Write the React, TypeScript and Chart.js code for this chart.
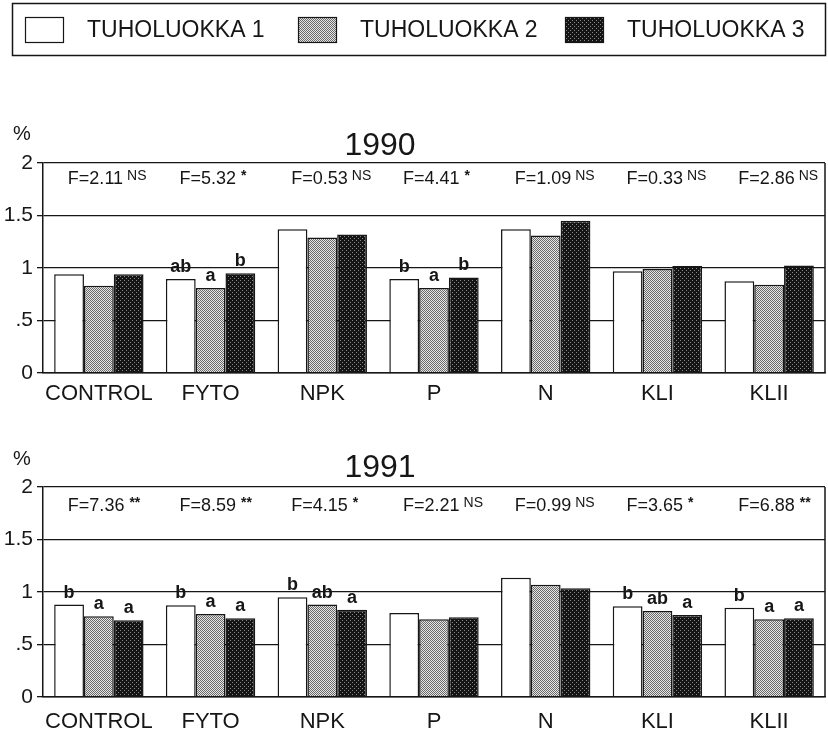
import React, { useEffect, useRef } from 'react';
import { Chart, registerables } from 'chart.js';

Chart.register(...registerables);

const categories = ['CONTROL', 'FYTO', 'NPK', 'P', 'N', 'KLI', 'KLII'];
const seriesNames = ['TUHOLUOKKA 1', 'TUHOLUOKKA 2', 'TUHOLUOKKA 3'];
const yTickValues = [0, 0.5, 1, 1.5, 2];
const yTickLabels = ['0', '.5', '1', '1.5', '2'];

const values1990_1 = [0.94, 0.895, 1.37, 0.895, 1.37, 0.97, 0.875];
const values1990_2 = [0.83, 0.81, 1.29, 0.81, 1.31, 0.99, 0.84];
const values1990_3 = [0.94, 0.95, 1.32, 0.91, 1.45, 1.02, 1.025];

const values1991_1 = [0.88, 0.875, 0.95, 0.8, 1.135, 0.865, 0.85];
const values1991_2 = [0.77, 0.79, 0.88, 0.74, 1.07, 0.82, 0.74];
const values1991_3 = [0.73, 0.75, 0.83, 0.76, 1.035, 0.78, 0.75];

const fText1990 = ['F=2.11', 'F=5.32', 'F=0.53', 'F=4.41', 'F=1.09', 'F=0.33', 'F=2.86'];
const fSig1990 = ['NS', '*', 'NS', '*', 'NS', 'NS', 'NS'];
const fText1991 = ['F=7.36', 'F=8.59', 'F=4.15', 'F=2.21', 'F=0.99', 'F=3.65', 'F=6.88'];
const fSig1991 = ['**', '**', '*', 'NS', 'NS', '*', '**'];

const letters1990_1 = ['', 'ab', '', 'b', '', '', ''];
const letters1990_2 = ['', 'a', '', 'a', '', '', ''];
const letters1990_3 = ['', 'b', '', 'b', '', '', ''];
const letters1991_1 = ['b', 'b', 'b', '', '', 'b', 'b'];
const letters1991_2 = ['a', 'a', 'ab', '', '', 'ab', 'a'];
const letters1991_3 = ['a', 'a', 'a', '', '', 'a', 'a'];

const FONT = '"Liberation Sans", Arial, sans-serif';
const INK = '#161616';

function makePattern(base: string, dot: string, size: number, dots: number[][]) {
  const c = document.createElement('canvas');
  c.width = size;
  c.height = size;
  const g = c.getContext('2d')!;
  g.fillStyle = base;
  g.fillRect(0, 0, size, size);
  g.fillStyle = dot;
  dots.forEach(([x, y]) => g.fillRect(x, y, 1, 1));
  return g.createPattern(c, 'repeat')!;
}

const annotPlugin = {
  id: 'annot',
  afterDatasetsDraw(chart: any, _args: any, opts: any) {
    const { ctx, chartArea, scales } = chart;
    const xs = scales.x;
    ctx.save();
    // right frame
    ctx.strokeStyle = INK;
    ctx.lineWidth = 1.5;
    ctx.beginPath();
    ctx.moveTo(chartArea.right, chartArea.top);
    ctx.lineTo(chartArea.right, chartArea.bottom);
    ctx.stroke();

    ctx.fillStyle = INK;
    ctx.textBaseline = 'alphabetic';
    // percent label
    ctx.font = `20px ${FONT}`;
    ctx.textAlign = 'left';
    ctx.fillText('%', 13, chartArea.top - opts.pctOffset);
    // title
    ctx.font = `32px ${FONT}`;
    ctx.textAlign = 'center';
    ctx.fillText(opts.title, chartArea.left + chartArea.width * 0.431, chartArea.top - opts.titleOffset);

    // F statistics
    opts.fText.forEach((t: string, i: number) => {
      const cx = xs.getPixelForValue(i);
      const x0 = cx - 31;
      const yb = chartArea.top + opts.fOffset;
      ctx.font = `18px ${FONT}`;
      ctx.textAlign = 'left';
      ctx.fillText(t, x0, yb);
      const w = ctx.measureText(t).width;
      const sig = opts.fSig[i];
      if (sig === 'NS') {
        ctx.font = `14px ${FONT}`;
        ctx.fillText(sig, x0 + w + 4, yb - 4);
      } else {
        ctx.font = `bold 14px ${FONT}`;
        ctx.fillText(sig, x0 + w + 5, yb - 4);
      }
    });

    // letters above bars
    ctx.font = `bold 18px ${FONT}`;
    ctx.textAlign = 'center';
    opts.letters.forEach((arr: string[], di: number) => {
      const meta = chart.getDatasetMeta(di);
      arr.forEach((l: string, i: number) => {
        if (!l) return;
        const el = meta.data[i];
        ctx.fillText(l, el.x, el.y - 7);
      });
    });

    // legend
    if (opts.legend) {
      ctx.strokeStyle = INK;
      ctx.lineWidth = 1.5;
      ctx.strokeRect(12.5, 3.5, 813, 52);
      const swX = [25, 298, 565];
      chart.data.datasets.forEach((ds: any, di: number) => {
        ctx.fillStyle = ds.backgroundColor;
        ctx.fillRect(swX[di], 17, 38, 25);
        ctx.lineWidth = 1.2;
        ctx.strokeRect(swX[di] + 0.5, 17.5, 38, 25);
        ctx.fillStyle = INK;
        ctx.font = `23px ${FONT}`;
        ctx.textAlign = 'left';
        ctx.fillText(ds.label, swX[di] + 62, 37);
      });
    }
    ctx.restore();
  },
};

function buildChart(
  canvas: HTMLCanvasElement,
  series: number[][],
  cfg: {
    title: string;
    fText: string[];
    fSig: string[];
    letters: string[][];
    legend: boolean;
    top: number;
    xHeight: number;
    xPad: number;
    fOffset: number;
    titleOffset: number;
    pctOffset: number;
  }
) {
  const ctx = canvas.getContext('2d')!;
  const fills = [
    '#ffffff',
    makePattern('#e6e6e6', '#6a6a6a', 2, [[0, 0], [1, 1]]),
    makePattern('#141414', '#8a8a8a', 4, [[0, 0], [2, 2]]),
  ];
  return new Chart(ctx, {
    type: 'bar',
    data: {
      labels: categories,
      datasets: series.map((vals, i) => ({
        label: seriesNames[i],
        data: vals,
        backgroundColor: fills[i] as any,
        borderColor: INK,
        borderWidth: 1.5,
        categoryPercentage: 0.8,
        barPercentage: 1.0,
      })),
    },
    options: {
      animation: false,
      responsive: false,
      devicePixelRatio: 1,
      events: [],
      layout: { padding: { top: cfg.top, right: 3, left: 0, bottom: 0 } },
      plugins: {
        legend: { display: false },
        tooltip: { enabled: false },
        title: { display: false },
        annot: cfg,
      } as any,
      scales: {
        x: {
          grid: { color: 'rgba(0,0,0,0)', drawTicks: false, drawOnChartArea: false },
          border: { display: true, color: INK, width: 1.5, z: 1 },
          ticks: { color: INK, font: { family: FONT, size: 22 }, padding: cfg.xPad, maxRotation: 0 },
          afterFit: (s: any) => {
            s.height = cfg.xHeight;
          },
        },
        y: {
          min: 0,
          max: 2,
          afterBuildTicks: (s: any) => {
            s.ticks = yTickValues.map((v) => ({ value: v }));
          },
          ticks: {
            color: INK,
            font: { family: FONT, size: 21 },
            padding: 4,
            callback: (v: any) => {
              const idx = yTickValues.indexOf(Number(v));
              return idx >= 0 ? yTickLabels[idx] : '';
            },
          },
          grid: { color: INK, lineWidth: 1.3, tickLength: 6, drawTicks: true },
          border: { display: true, color: INK, width: 1.5 },
          afterFit: (s: any) => {
            s.width = 43;
          },
        },
      },
    },
    plugins: [annotPlugin],
  });
}

export default function App() {
  const refA = useRef<HTMLCanvasElement>(null);
  const refB = useRef<HTMLCanvasElement>(null);

  useEffect(() => {
    document.body.style.margin = '0';
    const a = buildChart(refA.current!, [values1990_1, values1990_2, values1990_3], {
      title: '1990',
      fText: fText1990,
      fSig: fSig1990,
      letters: [letters1990_1, letters1990_2, letters1990_3],
      legend: true,
      top: 163,
      xHeight: 37,
      xPad: 8,
      fOffset: 21,
      titleOffset: 8,
      pctOffset: 23,
    });
    const b = buildChart(refB.current!, [values1991_1, values1991_2, values1991_3], {
      title: '1991',
      fText: fText1991,
      fSig: fSig1991,
      letters: [letters1991_1, letters1991_2, letters1991_3],
      legend: false,
      top: 77,
      xHeight: 36,
      xPad: 12,
      fOffset: 24,
      titleOffset: 10,
      pctOffset: 22,
    });
    return () => {
      a.destroy();
      b.destroy();
    };
  }, []);

  return (
    <div style={{ position: 'absolute', left: 0, top: 0, width: 828, height: 733, background: '#fff' }}>
      <canvas ref={refA} width={828} height={410} style={{ position: 'absolute', left: 0, top: 0 }} />
      <canvas ref={refB} width={828} height={323} style={{ position: 'absolute', left: 0, top: 410 }} />
    </div>
  );
}
